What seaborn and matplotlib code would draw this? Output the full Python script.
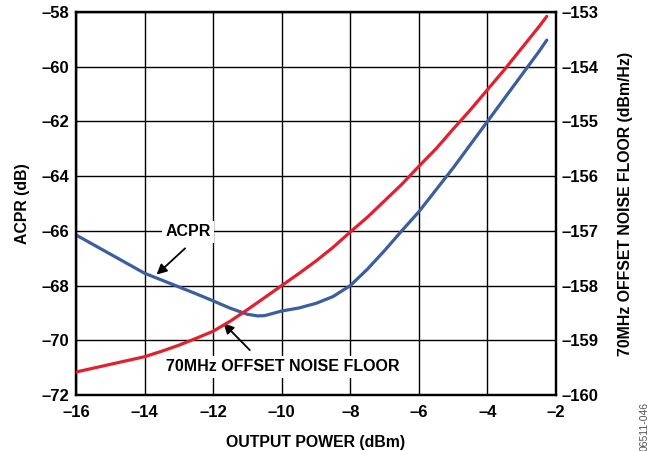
import matplotlib
matplotlib.use("Agg")
import matplotlib.pyplot as plt
import seaborn as sns
import pandas as pd

# ---- data ----
power_acpr = [-16, -15.5, -15, -14.5, -14, -13.5, -13, -12.5, -12, -11.5, -11,
              -10.7, -10.5, -10, -9.5, -9, -8.5, -8, -7.5, -7, -6.5, -6,
              -5.5, -5, -4.5, -4, -3.5, -3, -2.5, -2.27]
acpr = [-66.15, -66.5, -66.85, -67.2, -67.55, -67.8, -68.05, -68.3, -68.56,
        -68.83, -69.05, -69.11, -69.1, -68.93, -68.82, -68.65, -68.4, -68.0,
        -67.4, -66.72, -66.0, -65.3, -64.5, -63.7, -62.85, -62.0, -61.15,
        -60.3, -59.45, -59.03]

power_nf = [-16, -15.5, -15, -14.5, -14, -13.5, -13, -12.5, -12, -11.5, -11,
            -10.5, -10, -9.5, -9, -8.5, -8, -7.5, -7, -6.5, -6, -5.5, -5,
            -4.5, -4, -3.5, -3, -2.5, -2.27]
noise_floor = [-159.58, -159.51, -159.44, -159.37, -159.3, -159.2, -159.09,
               -158.965, -158.835, -158.65, -158.44, -158.22, -158.0, -157.78,
               -157.55, -157.3, -157.02, -156.75, -156.45, -156.15, -155.82,
               -155.5, -155.14, -154.79, -154.42, -154.05, -153.66, -153.27,
               -153.08]

x_ticks = [-16, -14, -12, -10, -8, -6, -4, -2]
acpr_ticks = [-72, -70, -68, -66, -64, -62, -60, -58]
nf_ticks = [-160, -159, -158, -157, -156, -155, -154, -153]

df_acpr = pd.DataFrame({"power": power_acpr, "acpr": acpr})
df_nf = pd.DataFrame({"power": power_nf, "nf": noise_floor})

sns.set_theme(style="white")
plt.rcParams["font.family"] = ["Liberation Sans", "DejaVu Sans"]
plt.rcParams["font.weight"] = "bold"
plt.rcParams["text.color"] = "black"

BLUE = "#3B5E9E"
RED = "#E2202E"

fig = plt.figure(figsize=(6.52, 4.51), dpi=100)
ax = fig.add_axes([0.1166, 0.1242, 0.8528 - 0.1166, 0.9734 - 0.1242])
ax2 = ax.twinx()

sns.lineplot(data=df_acpr, x="power", y="acpr", ax=ax, color=BLUE,
             linewidth=2.3, zorder=3)
sns.lineplot(data=df_nf, x="power", y="nf", ax=ax2, color=RED,
             linewidth=2.3, zorder=3)

ax.set_xlim(-16, -2)
ax.set_ylim(-72, -58)
ax2.set_ylim(-160, -153)
ax.set_xticks(x_ticks)
ax.set_yticks(acpr_ticks)
ax2.set_yticks(nf_ticks)
ax.set_xticklabels([f"\u2013{abs(v)}" for v in x_ticks])
ax.set_yticklabels([f"\u2013{abs(v)}" for v in acpr_ticks])
ax2.set_yticklabels([f"\u2013{abs(v)}" for v in nf_ticks])

ax.grid(True, color="black", linewidth=1.0, zorder=0)
ax2.grid(False)
ax.set_axisbelow(True)

for a in (ax, ax2):
    for s in a.spines.values():
        s.set_color("black")
        s.set_linewidth(1.6)
    a.tick_params(length=0, labelsize=12, colors="black")
    for lbl in a.get_xticklabels() + a.get_yticklabels():
        lbl.set_fontweight("bold")
ax.tick_params(axis="y", pad=5)
ax.tick_params(axis="x", pad=7)
ax2.tick_params(axis="y", pad=4)

ax.set_xlabel("OUTPUT POWER (dBm)", fontsize=11.4, fontweight="bold",
              color="black", labelpad=11)
ax.set_ylabel("ACPR (dB)", fontsize=11.4, fontweight="bold", color="black",
              labelpad=8)
ax2.set_ylabel("70MHz OFFSET NOISE FLOOR (dBm/Hz)", fontsize=11.4,
               fontweight="bold", color="black", labelpad=14)

bbox = dict(facecolor="white", edgecolor="none", pad=2.5)
ax.text(-12.73, -66.04, "ACPR", fontsize=11.5, fontweight="bold",
        color="black", ha="center", va="center", bbox=bbox, zorder=5)
ax.text(-9.96, -70.97, "70MHz OFFSET NOISE FLOOR", fontsize=11.5,
        fontweight="bold", color="black", ha="center", va="center",
        bbox=bbox, zorder=5)

arrow = dict(arrowstyle="-|>", color="black", lw=1.3, mutation_scale=15,
             shrinkA=0, shrinkB=0)
ax.annotate("", xy=(-13.65, -67.6), xytext=(-12.82, -66.64),
            arrowprops=arrow, zorder=6)
ax.annotate("", xy=(-11.7, -69.38), xytext=(-10.93, -70.36),
            arrowprops=arrow, zorder=6)

fig.text(0.988, 1 - 402 / 451, "06511-046", rotation=90, fontsize=7.5,
         color="#555555", fontweight="normal", ha="center", va="top")

fig.savefig("out.png", dpi=100)
